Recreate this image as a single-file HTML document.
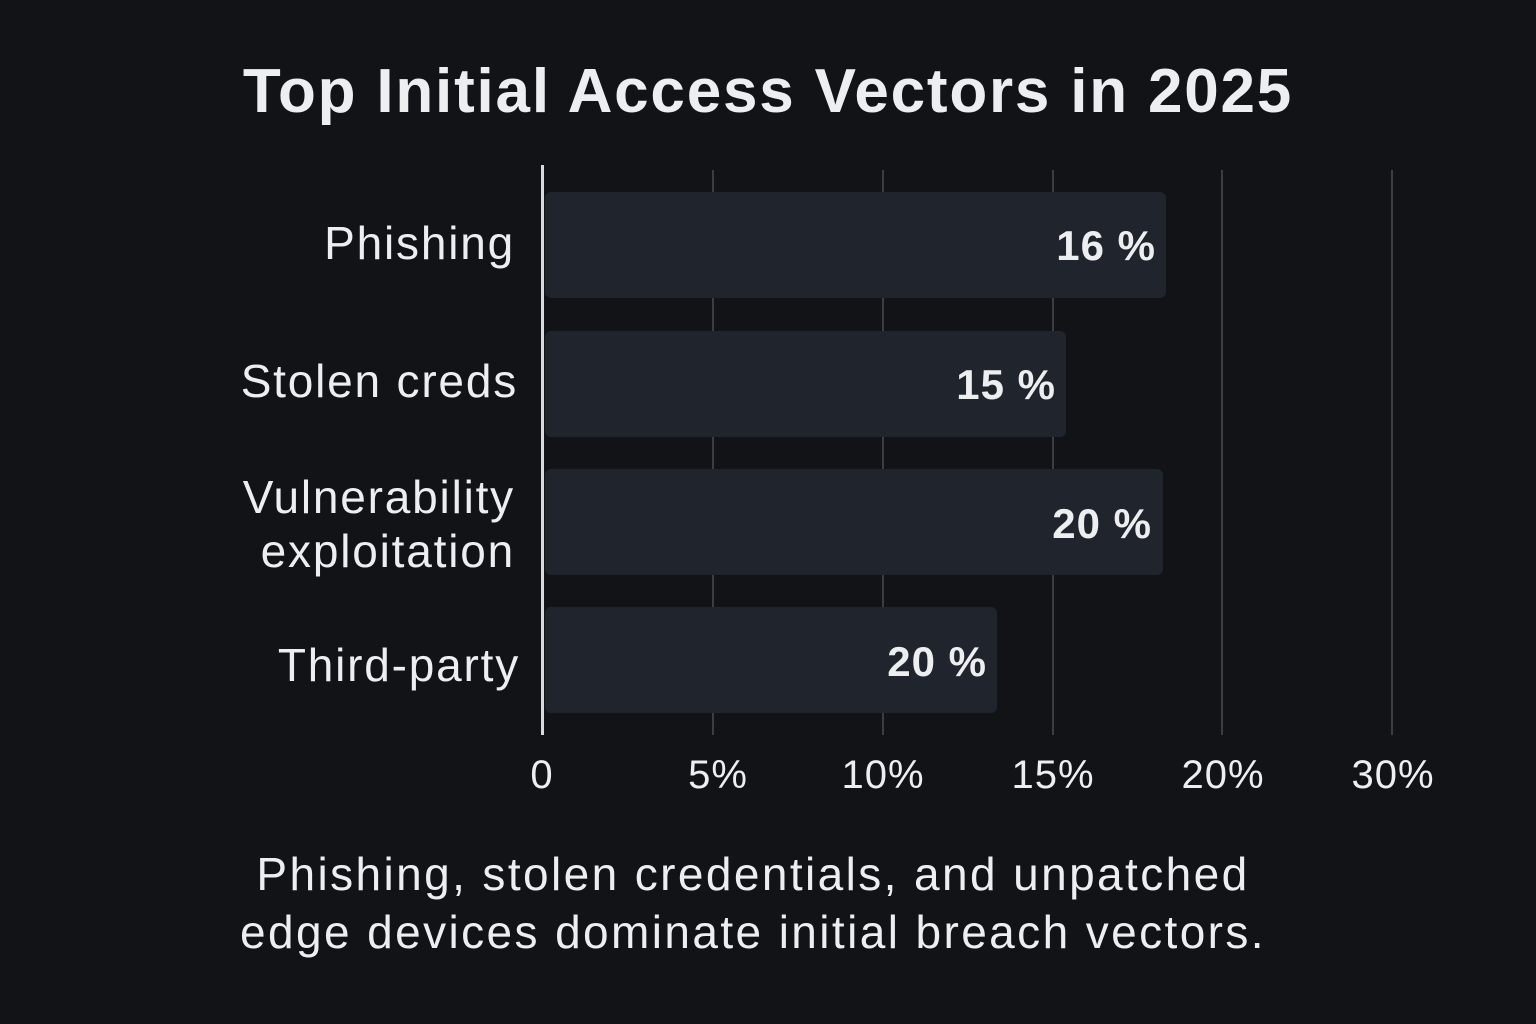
<!DOCTYPE html>
<html><head><style>
body{margin:0;width:1536px;height:1024px;background:#121316;overflow:hidden;font-family:"Liberation Sans",sans-serif;color:#eceef0}
.a{position:absolute}
.title{left:0;width:1536px;text-align:center;top:56px;font-size:62px;font-weight:bold;letter-spacing:1.8px}
.grid{width:2px;background:#3a3d42;top:170px;height:565px}
.bar{background:#1f242d;border-radius:6px;left:545px;height:106px}
.lab{right:1021px;font-size:46px;text-align:right;line-height:54px;letter-spacing:1.8px}
.val{font-size:42px;font-weight:bold;text-align:right;letter-spacing:1px}
.tick{font-size:40px;top:753px;width:140px;text-align:center;letter-spacing:1px}
.sub{left:0;width:1506px;text-align:center;font-size:46px;line-height:58px;top:845px;letter-spacing:2.4px}
</style></head><body>
<div class="a title">Top Initial Access Vectors in 2025</div>
<div class="a grid" style="left:712px"></div>
<div class="a grid" style="left:882px"></div>
<div class="a grid" style="left:1052px"></div>
<div class="a grid" style="left:1221px"></div>
<div class="a grid" style="left:1391px"></div>
<div class="a bar" style="top:192px;width:621px"></div>
<div class="a bar" style="top:331px;width:521px"></div>
<div class="a bar" style="top:469px;width:618px"></div>
<div class="a bar" style="top:607px;width:452px"></div>
<div class="a" style="left:541px;top:165px;width:3px;height:570px;background:#d8dadc"></div>
<div class="a lab" style="top:216px">Phishing</div>
<div class="a lab" style="top:354px;right:1018px">Stolen creds</div>
<div class="a lab" style="top:470px">Vulnerability<br>exploitation</div>
<div class="a lab" style="top:638px;right:1016px">Third-party</div>
<div class="a val" style="top:222px;right:380px">16 %</div>
<div class="a val" style="top:361px;right:480px">15 %</div>
<div class="a val" style="top:500px;right:384px">20 %</div>
<div class="a val" style="top:638px;right:549px">20 %</div>
<div class="a tick" style="left:472px">0</div>
<div class="a tick" style="left:648px">5%</div>
<div class="a tick" style="left:813px">10%</div>
<div class="a tick" style="left:983px">15%</div>
<div class="a tick" style="left:1153px">20%</div>
<div class="a tick" style="left:1323px">30%</div>
<div class="a sub">Phishing, stolen credentials, and unpatched<br>edge devices dominate initial breach vectors.</div>
</body></html>
